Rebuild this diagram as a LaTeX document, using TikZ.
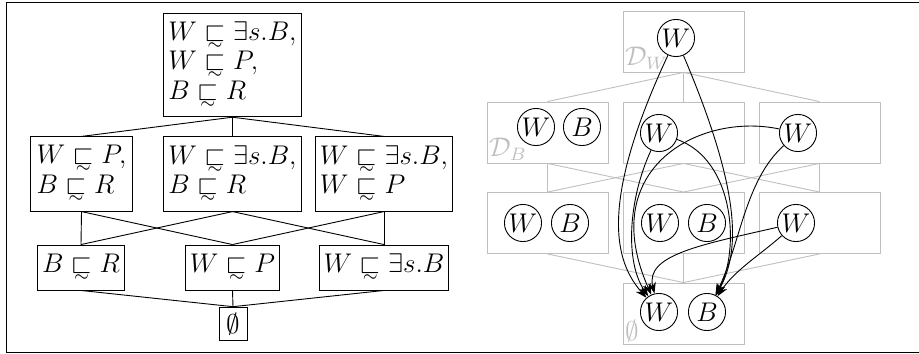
\documentclass[tikz,border=0pt]{standalone}
\usepackage{amsmath,amssymb}
\usetikzlibrary{arrows.meta}
\newcommand{\ssim}{\mathrel{\hbox{\ooalign{$\sqsubset$\cr\hidewidth\raisebox{-0.33em}{$\scriptstyle\sim$}\hidewidth\cr}}}}
\begin{document}
\begin{tikzpicture}[x=0.4444pt,y=-0.4444pt,
  font=\fontsize{12}{12}\selectfont,
  lbox/.style={draw,align=left,inner sep=2pt},
  gbox/.style={draw=gray!50,minimum width=53.8pt,minimum height=27.1pt,inner sep=0pt},
  gline/.style={draw=gray!50},
  cnode/.style={draw,circle,inner sep=0pt,minimum size=16.5pt},
  glab/.style={text=gray!50,anchor=south west,inner sep=1pt},
  arr/.style={-{Stealth[length=5pt,width=3.6pt]}}
]
\useasboundingbox (0,0) rectangle (919,354);
\draw (6.5,2) rectangle (930,352.5);

% left lattice
\node[lbox,minimum width=59pt,minimum height=46pt] (T) at (232.5,65) {$W \ssim \exists s.B,$\\ $W \ssim P,$\\ $B \ssim R$};
\node[lbox,minimum width=45pt,minimum height=33pt] (M1) at (81.5,174) {$W \ssim P,$\\ $B \ssim R$};
\node[lbox,minimum width=59pt,minimum height=33pt] (M2) at (232.5,174) {$W \ssim \exists s.B,$\\ $B \ssim R$};
\node[lbox,minimum width=59.5pt,minimum height=33pt] (M3) at (384,174) {$W \ssim \exists s.B,$\\ $W \ssim P$};
\node[lbox,minimum width=38pt,minimum height=20pt] (B1) at (81,267.5) {$B \ssim R$};
\node[lbox,minimum width=41pt,minimum height=20pt] (B2) at (232.5,267.5) {$W \ssim P$};
\node[lbox,minimum width=56pt,minimum height=20pt] (B3) at (384,267.5) {$W \ssim \exists s.B$};
\node[lbox,minimum width=12.4pt,minimum height=15pt] (E) at (233,324) {$\emptyset$};

\draw (T.south) -- (M1.north);
\draw (T.south) -- (M2.north);
\draw (T.south) -- (M3.north);
\draw (M1.south) -- (B1.north);
\draw (M1.south) -- (B2.north);
\draw (M2.south) -- (B1.north);
\draw (M2.south) -- (B3.north);
\draw (M3.south) -- (B2.north);
\draw (M3.south) -- (B3.north);
\draw (B1.south) -- (E.north);
\draw (B2.south) -- (E.north);
\draw (B3.south) -- (E.north);

% right lattice
\node[gbox] (GT) at (683.5,41.5) {};
\node[gbox] (G1) at (547.5,132.5) {};
\node[gbox] (G2) at (683.5,132.5) {};
\node[gbox] (G3) at (819.5,132.5) {};
\node[gbox] (H1) at (547.5,223) {};
\node[gbox] (H2) at (683.5,223) {};
\node[gbox] (H3) at (819.5,223) {};
\node[gbox] (GB) at (683.5,313.5) {};

\draw[gline] (GT.south) -- (G1.north);
\draw[gline] (GT.south) -- (G2.north);
\draw[gline] (GT.south) -- (G3.north);
\draw[gline] (G1.south) -- (H1.north);
\draw[gline] (G1.south) -- (H2.north);
\draw[gline] (G2.south) -- (H1.north);
\draw[gline] (G2.south) -- (H3.north);
\draw[gline] (G3.south) -- (H2.north);
\draw[gline] (G3.south) -- (H3.north);
\draw[gline] (H1.south) -- (GB.north);
\draw[gline] (H2.south) -- (GB.north);
\draw[gline] (H3.south) -- (GB.north);

\node[glab] (lDW) at (GT.south west) {$\mathcal{D}_W$};
\node[glab] (lDB) at (G1.south west) {$\mathcal{D}_B$};
\node[glab] (lE) at (GB.south west) {$\emptyset$};

\node[cnode] (tW) at (676,38) {$W$};
\node[cnode] (m1W) at (536,127) {$W$};
\node[cnode] (m1B) at (582,127) {$B$};
\node[cnode] (m2W) at (659,133) {$W$};
\node[cnode] (m3W) at (798,133) {$W$};
\node[cnode] (t1W) at (523,223) {$W$};
\node[cnode] (t1B) at (570,223) {$B$};
\node[cnode] (t2W) at (660,223) {$W$};
\node[cnode] (t2B) at (707,223) {$B$};
\node[cnode] (t3W) at (796,223) {$W$};
\node[cnode] (bW) at (659,312) {$W$};
\node[cnode] (bB) at (707,312) {$B$};

\draw[arr] (tW) .. controls (598,205) and (615,262) .. (bW);
\draw[arr] (tW) .. controls (745,200) and (738,255) .. (bB);
\draw[arr] (m2W) .. controls (628,200) and (625,262) .. (bW);
\draw[arr] (m2W) .. controls (735,160) and (740,250) .. (bB);
\draw[arr] (m3W) .. controls (700,112) and (595,168) .. (bW);
\draw[arr] (m3W) .. controls (745,180) and (740,245) .. (bB);
\draw[arr] (t3W) .. controls (700,245) and (645,255) .. (bW);
\draw[arr] (t3W) .. controls (760,255) and (735,270) .. (bB);
\end{tikzpicture}
\end{document}
